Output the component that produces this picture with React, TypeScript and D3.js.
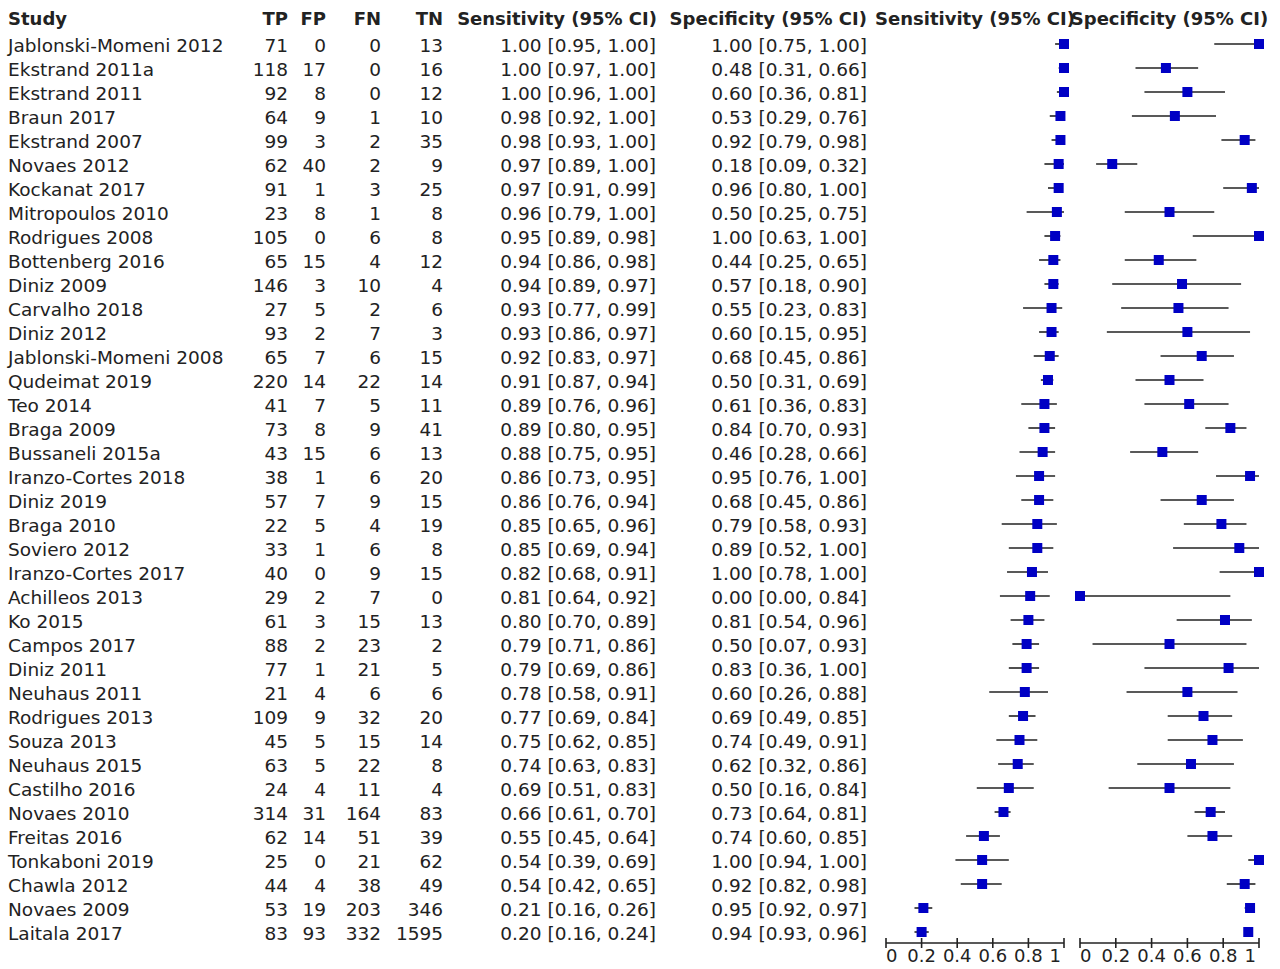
import React from "react";
import * as d3 from "d3";

// Study rows: name and 2x2 counts
const studies = [
  "Jablonski-Momeni 2012", "Ekstrand 2011a", "Ekstrand 2011", "Braun 2017", "Ekstrand 2007",
  "Novaes 2012", "Kockanat 2017", "Mitropoulos 2010", "Rodrigues 2008", "Bottenberg 2016",
  "Diniz 2009", "Carvalho 2018", "Diniz 2012", "Jablonski-Momeni 2008", "Qudeimat 2019",
  "Teo 2014", "Braga 2009", "Bussaneli 2015a", "Iranzo-Cortes 2018", "Diniz 2019",
  "Braga 2010", "Soviero 2012", "Iranzo-Cortes 2017", "Achilleos 2013", "Ko 2015",
  "Campos 2017", "Diniz 2011", "Neuhaus 2011", "Rodrigues 2013", "Souza 2013",
  "Neuhaus 2015", "Castilho 2016", "Novaes 2010", "Freitas 2016", "Tonkaboni 2019",
  "Chawla 2012", "Novaes 2009", "Laitala 2017",
];
const tp = [71, 118, 92, 64, 99, 62, 91, 23, 105, 65, 146, 27, 93, 65, 220, 41, 73, 43, 38, 57, 22, 33, 40, 29, 61, 88, 77, 21, 109, 45, 63, 24, 314, 62, 25, 44, 53, 83];
const fp = [0, 17, 8, 9, 3, 40, 1, 8, 0, 15, 3, 5, 2, 7, 14, 7, 8, 15, 1, 7, 5, 1, 0, 2, 3, 2, 1, 4, 9, 5, 5, 4, 31, 14, 0, 4, 19, 93];
const fn = [0, 0, 0, 1, 2, 2, 3, 1, 6, 4, 10, 2, 7, 6, 22, 5, 9, 6, 6, 9, 4, 6, 9, 7, 15, 23, 21, 6, 32, 15, 22, 11, 164, 51, 21, 38, 203, 332];
const tn = [13, 16, 12, 10, 35, 9, 25, 8, 8, 12, 4, 6, 3, 15, 14, 11, 41, 13, 20, 15, 19, 8, 15, 0, 13, 2, 5, 6, 20, 14, 8, 4, 83, 39, 62, 49, 346, 1595];

// Sensitivity with 95% CI
const sens = [1.0, 1.0, 1.0, 0.98, 0.98, 0.97, 0.97, 0.96, 0.95, 0.94, 0.94, 0.93, 0.93, 0.92, 0.91, 0.89, 0.89, 0.88, 0.86, 0.86, 0.85, 0.85, 0.82, 0.81, 0.8, 0.79, 0.79, 0.78, 0.77, 0.75, 0.74, 0.69, 0.66, 0.55, 0.54, 0.54, 0.21, 0.2];
const sensLo = [0.95, 0.97, 0.96, 0.92, 0.93, 0.89, 0.91, 0.79, 0.89, 0.86, 0.89, 0.77, 0.86, 0.83, 0.87, 0.76, 0.8, 0.75, 0.73, 0.76, 0.65, 0.69, 0.68, 0.64, 0.7, 0.71, 0.69, 0.58, 0.69, 0.62, 0.63, 0.51, 0.61, 0.45, 0.39, 0.42, 0.16, 0.16];
const sensHi = [1.0, 1.0, 1.0, 1.0, 1.0, 1.0, 0.99, 1.0, 0.98, 0.98, 0.97, 0.99, 0.97, 0.97, 0.94, 0.96, 0.95, 0.95, 0.95, 0.94, 0.96, 0.94, 0.91, 0.92, 0.89, 0.86, 0.86, 0.91, 0.84, 0.85, 0.83, 0.83, 0.7, 0.64, 0.69, 0.65, 0.26, 0.24];

// Specificity with 95% CI
const spec = [1.0, 0.48, 0.6, 0.53, 0.92, 0.18, 0.96, 0.5, 1.0, 0.44, 0.57, 0.55, 0.6, 0.68, 0.5, 0.61, 0.84, 0.46, 0.95, 0.68, 0.79, 0.89, 1.0, 0.0, 0.81, 0.5, 0.83, 0.6, 0.69, 0.74, 0.62, 0.5, 0.73, 0.74, 1.0, 0.92, 0.95, 0.94];
const specLo = [0.75, 0.31, 0.36, 0.29, 0.79, 0.09, 0.8, 0.25, 0.63, 0.25, 0.18, 0.23, 0.15, 0.45, 0.31, 0.36, 0.7, 0.28, 0.76, 0.45, 0.58, 0.52, 0.78, 0.0, 0.54, 0.07, 0.36, 0.26, 0.49, 0.49, 0.32, 0.16, 0.64, 0.6, 0.94, 0.82, 0.92, 0.93];
const specHi = [1.0, 0.66, 0.81, 0.76, 0.98, 0.32, 1.0, 0.75, 1.0, 0.65, 0.9, 0.83, 0.95, 0.86, 0.69, 0.83, 0.93, 0.66, 1.0, 0.86, 0.93, 1.0, 1.0, 0.84, 0.96, 0.93, 1.0, 0.88, 0.85, 0.91, 0.86, 0.84, 0.81, 0.85, 1.0, 0.98, 0.97, 0.96];

const axisTicks = [0, 0.2, 0.4, 0.6, 0.8, 1];
const tickLabels = ["0", "0.2", "0.4", "0.6", "0.8", "1"];

const FONT = "'DejaVu Sans', sans-serif";
const FS_HEAD = 18;
const FS_BODY = 18.5;
const SQ = "#0000C4";
const INK = "#222";

const fmt = d3.format(".2f");
const ciText = (v: number, lo: number, hi: number) => `${fmt(v)} [${fmt(lo)}, ${fmt(hi)}]`;

export default function App() {
  const W = 1280;
  const H = 969;
  const idx = d3.range(studies.length);
  const y = d3.scalePoint<number>().domain(idx).range([44, 932]);
  const xSens = d3.scaleLinear().domain([0, 1]).range([886, 1064]);
  const xSpec = d3.scaleLinear().domain([0, 1]).range([1080, 1259]);

  const numCols = [
    { key: "TP", x: 288, vals: tp },
    { key: "FP", x: 326, vals: fp },
    { key: "FN", x: 381, vals: fn },
    { key: "TN", x: 443, vals: tn },
  ];
  const baselineOffset = 7.5;
  const headerY = 25;
  const axisY = 943;
  const sq = 10;

  const panels = [
    { title: "Sensitivity (95% CI)", x: xSens, v: sens, lo: sensLo, hi: sensHi },
    { title: "Specificity (95% CI)", x: xSpec, v: spec, lo: specLo, hi: specHi },
  ];

  return (
    <svg
      width={W}
      height={H}
      style={{ position: "absolute", left: 0, top: 0, background: "#fff" }}
      fontFamily={FONT}
      fontSize={FS_BODY}
    >
      <rect width={W} height={H} fill="#fff" />
      {/* header row */}
      <g fontWeight="bold" fill={INK} fontSize={FS_HEAD}>
        <text x={8} y={headerY}>Study</text>
        {numCols.map((c) => (
          <text key={c.key} x={c.x} y={headerY} textAnchor="end">{c.key}</text>
        ))}
        <text x={657} y={headerY} textAnchor="end">Sensitivity (95% CI)</text>
        <text x={867} y={headerY} textAnchor="end">Specificity (95% CI)</text>
        {panels.map((p) => (
          <text key={p.title} x={(p.x.range()[0] + p.x.range()[1]) / 2} y={headerY} textAnchor="middle">
            {p.title}
          </text>
        ))}
      </g>

      {/* table body */}
      <g fill={INK}>
        {idx.map((i) => {
          const yy = (y(i) as number) + baselineOffset;
          return (
            <g key={i}>
              <text x={8} y={yy}>{studies[i]}</text>
              {numCols.map((c) => (
                <text key={c.key} x={c.x} y={yy} textAnchor="end">{c.vals[i]}</text>
              ))}
              <text x={656} y={yy} textAnchor="end">{ciText(sens[i], sensLo[i], sensHi[i])}</text>
              <text x={867} y={yy} textAnchor="end">{ciText(spec[i], specLo[i], specHi[i])}</text>
            </g>
          );
        })}
      </g>

      {/* forest panels */}
      {panels.map((p) => (
        <g key={p.title}>
          {idx.map((i) => {
            const cy = y(i) as number;
            return (
              <g key={i}>
                <line x1={p.x(p.lo[i])} x2={p.x(p.hi[i])} y1={cy} y2={cy} stroke={INK} strokeWidth={1.6} />
                <rect x={p.x(p.v[i]) - sq / 2} y={cy - sq / 2} width={sq} height={sq} fill={SQ} />
              </g>
            );
          })}
          <line x1={p.x(0)} x2={p.x(1)} y1={axisY} y2={axisY} stroke={INK} strokeWidth={1.6} />
          {axisTicks.map((t, k) => (
            <g key={t}>
              <line x1={p.x(t)} x2={p.x(t)} y1={axisY - 5} y2={axisY + 5} stroke={INK} strokeWidth={1.6} />
              <text
                x={p.x(t) + (k === axisTicks.length - 1 ? -3 : 0)}
                y={962}
                fill={INK}
                fontSize={FS_HEAD}
                textAnchor={k === 0 ? "start" : k === axisTicks.length - 1 ? "end" : "middle"}
              >
                {tickLabels[k]}
              </text>
            </g>
          ))}
        </g>
      ))}
    </svg>
  );
}
